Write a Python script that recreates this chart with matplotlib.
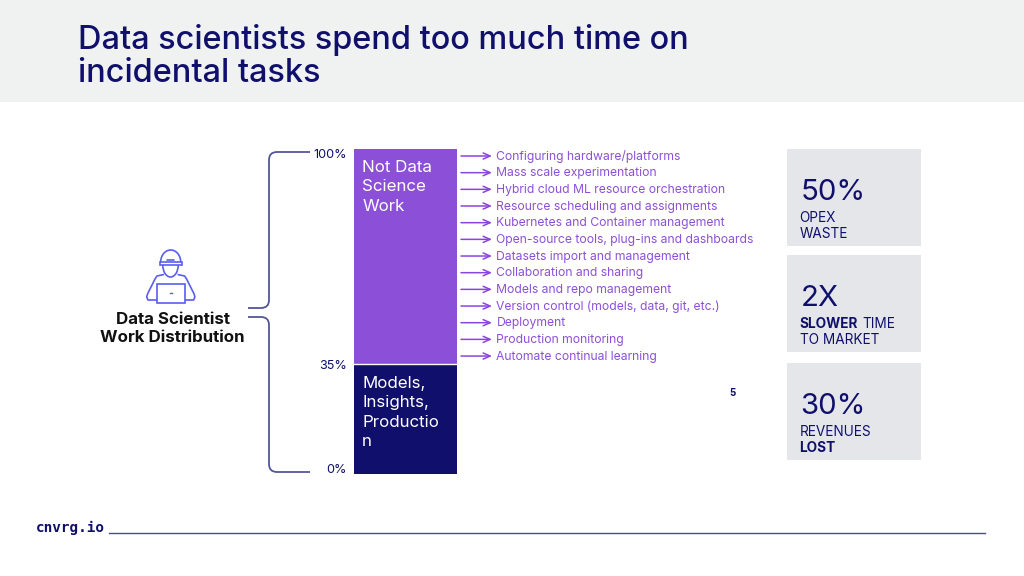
import matplotlib
matplotlib.use("Agg")
import matplotlib.pyplot as plt
from matplotlib.patches import Rectangle, Arc, PathPatch
from matplotlib.path import Path

plt.rcParams['font.family'] = ['Inter', 'DejaVu Sans']

NAVY = '#10106c'
PURPLE = '#8c50d8'
ARROW = '#8a45e0'
LINE = '#55559a'
ICON = '#5a5ef0'
GREY = '#e5e6e9'

title_lines = ["Data scientists spend too much time on", "incidental tasks"]
segments = ["Models,\nInsights,\nProductio\nn", "Not Data\nScience\nWork"]
segment_values = [33.7, 66.3]
segment_colors = [NAVY, PURPLE]
pct_labels = ["100%", "35%", "0%"]
pct_label_y = [155, 366, 470]
tasks = ["Configuring hardware/platforms", "Mass scale experimentation",
         "Hybrid cloud ML resource orchestration", "Resource scheduling and assignments",
         "Kubernetes and Container management", "Open-source tools, plug-ins and dashboards",
         "Datasets import and management", "Collaboration and sharing",
         "Models and repo management", "Version control (models, data, git, etc.)",
         "Deployment", "Production monitoring", "Automate continual learning"]
kpi_values = ["50%", "2X", "30%"]
kpi_lines = [[("OPEX", False), ("WASTE", False)],
             [("SLOWER", True), ("TO MARKET", False)],
             [("REVENUES", False), ("LOST", True)]]

W, H = 1024, 576
fig = plt.figure(figsize=(10.24, 5.76), dpi=100)
ax = fig.add_axes([0, 0, 1, 1])
ax.set_xlim(0, W); ax.set_ylim(H, 0); ax.axis('off')

# header
ax.add_patch(Rectangle((0, 0), W, 101.5, color='#f0f1f1', lw=0))
for y, t in zip([40.5, 73.5], title_lines):
    ax.text(78, y, t, fontsize=23.4, color=NAVY, va='center', ha='left', weight='medium')

# stacked bar
bx = fig.add_axes([354 / W, 1 - 474 / H, 102.5 / W, 325.5 / H])
bx.set_xlim(0, 1); bx.set_ylim(0, 100); bx.axis('off')
bottom = 0
for label, v, c in zip(segments, segment_values, segment_colors):
    bx.bar(0.5, v, width=1, bottom=bottom, color=c, linewidth=0)
    bx.text(0.08, bottom + v - 3.5, label, color='white', fontsize=12.2, va='top', ha='left',
            linespacing=1.37)
    bottom += v
bx.axhline(segment_values[0], color='white', lw=1)

for t, y in zip(pct_labels, pct_label_y):
    ax.text(346.5, y, t, fontsize=9.1, color=NAVY, va='center', ha='right')

# task list
y0, dy = 156, 16.67
for i, t in enumerate(tasks):
    y = y0 + i * dy
    ax.annotate('', xy=(492, y), xytext=(461, y),
                arrowprops=dict(arrowstyle='->,head_length=0.5,head_width=0.22',
                                color=ARROW, lw=1.1, shrinkA=0, shrinkB=0))
    ax.text(496.5, y + 0.5, t, fontsize=8.75, color=PURPLE, va='center', ha='left')

# braces
def brace(x_tip, y_tip, x_mid, y_end, x_end):
    s = 1 if y_end > y_tip else -1
    r = 8
    verts = [(x_tip, y_tip), (x_mid - r, y_tip), (x_mid, y_tip), (x_mid, y_tip + s * r),
             (x_mid, y_end - s * r), (x_mid, y_end), (x_mid + r, y_end), (x_end, y_end)]
    codes = [Path.MOVETO, Path.LINETO, Path.CURVE3, Path.CURVE3,
             Path.LINETO, Path.CURVE3, Path.CURVE3, Path.LINETO]
    ax.add_patch(PathPatch(Path(verts, codes), fc='none', ec=LINE, lw=1.3))

brace(248, 308, 269, 152, 310)
brace(248, 317, 269, 472, 310)

# icon
il = dict(color=ICON, lw=1.2, solid_capstyle='round')
ax.add_patch(Arc((170.7, 262), 20, 24, theta1=180, theta2=360, ec=ICON, lw=1.2))
ax.add_patch(Rectangle((160, 262), 22, 2.5, fc='white', ec=ICON, lw=1.2, zorder=3))
ax.plot([167, 174], [260, 260], **il)
ax.add_patch(Arc((170.5, 265), 15.5, 24, theta1=0, theta2=180, ec=ICON, lw=1.2))
for sgn in (-1, 1):
    pts = [(157, 300), (148, 300), (146.7, 297), (147.5, 294), (155, 279), (157, 276), (164, 274.5)]
    verts = [(170.8 + sgn * (170.8 - px), py) for px, py in pts]
    ax.add_patch(PathPatch(Path(verts, [Path.MOVETO] + [Path.LINETO] * 6),
                           fc='none', ec=ICON, lw=1.2, joinstyle='round'))
ax.add_patch(Rectangle((156.5, 284), 28.5, 18.5, fc='white', ec=ICON, lw=1.2, zorder=3))
ax.plot([170, 171.5], [293, 293], color=ICON, lw=1, zorder=4)

ax.text(172.5, 319, "Data Scientist", fontsize=12.2, weight='bold', color='#111', ha='center', va='center')
ax.text(172.5, 338, "Work Distribution", fontsize=12.2, weight='bold', color='#111', ha='center', va='center')

# page number
ax.text(732, 393, "5", fontsize=7, weight='bold', color=NAVY, ha='center', va='center')

# KPI cards
tops = [148.5, 255, 362.5]
for top, val, lines in zip(tops, kpi_values, kpi_lines):
    ax.add_patch(Rectangle((787, top), 133.5, 97, color=GREY, lw=0))
    ax.text(800.5, top + 43.5, val, fontsize=21.2, color=NAVY, va='center', ha='left')
    for j, (t, bold) in enumerate(lines):
        ax.text(799.5, top + 69.5 + j * 15.5, t, fontsize=9.8, color=NAVY, va='center', ha='left',
                weight='bold' if bold else 'normal')
ax.text(862, 255 + 69.5, "TIME", fontsize=9.8, color=NAVY, va='center', ha='left')

# footer
ax.text(36, 527.5, "cnvrg.io", fontsize=10.4, weight='bold', family='DejaVu Sans Mono', color=NAVY, va='center', ha='left')
ax.plot([109, 985], [533, 533], color='#4a4a9a', lw=1)

fig.savefig('out.png', dpi=100)
